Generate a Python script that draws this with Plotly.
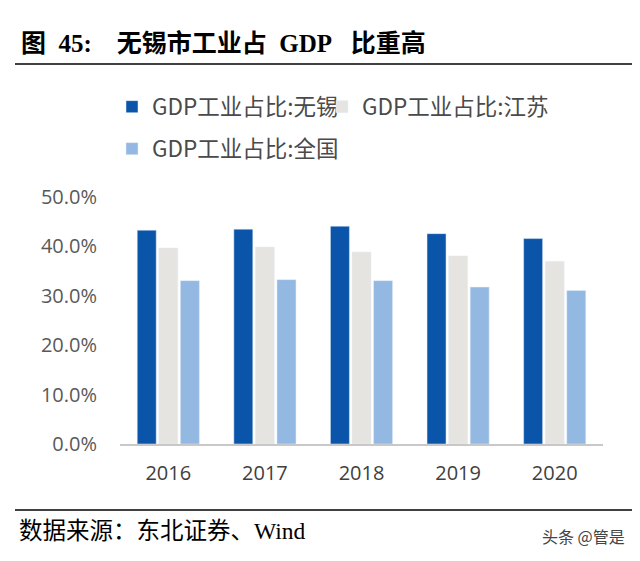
import plotly.graph_objects as go

years = ["2016", "2017", "2018", "2019", "2020"]
wuxi = [43.2, 43.4, 44.0, 42.5, 41.5]
jiangsu = [39.6, 39.8, 38.8, 38.0, 36.9]
national = [33.0, 33.2, 33.0, 31.7, 31.0]
series_names = ["GDP工业占比:无锡", "GDP工业占比:江苏", "GDP工业占比:全国"]
y_ticks = [0, 10, 20, 30, 40, 50]
y_ticklabels = ["0.0%", "10.0%", "20.0%", "30.0%", "40.0%", "50.0%"]

# page is offset by the browser's default 8px body margin
OFF = 8
PAGE_W, PAGE_H = 640, 561
W, H = PAGE_W - OFF, PAGE_H - OFF
L, R, T, B = 120, 603, 195, 444.5  # plot area in page pixels

def px(x):
    return (x - L) / (R - L)

def py(y):
    return (B - y) / (B - T)

def cx(x):
    return (x - OFF) / W

def cy(y):
    return 1 - (y - OFF) / H

colors = ["#0A55AA", "#E6E4E0", "#93B8E2"]
lg_font = dict(family="Noto Sans CJK SC", size=22.5, color="#4a4a4a")

fig = go.Figure()
fig.add_trace(go.Bar(x=years, y=wuxi, name=series_names[0], marker_color=colors[0], legend="legend"))
fig.add_trace(go.Bar(x=years, y=jiangsu, name=series_names[1], marker_color=colors[1], legend="legend2"))
fig.add_trace(go.Bar(x=years, y=national, name=series_names[2], marker_color=colors[2], legend="legend3"))

def leg(x, y):
    return dict(orientation="h", xref="container", yref="container",
                x=cx(x), y=cy(y), xanchor="left", yanchor="middle",
                font=lg_font, bgcolor="rgba(0,0,0,0)")

fig.update_layout(
    width=W, height=H,
    margin=dict(l=L - OFF, r=W - (R - OFF), t=T - OFF, b=H - (B - OFF), pad=0),
    paper_bgcolor="white", plot_bgcolor="white",
    barmode="group", bargap=0.33, bargroupgap=0.12,
    showlegend=True,
    legend=leg(112, 107),
    legend2=leg(322, 107),
    legend3=leg(112, 149),
    xaxis=dict(type="category", showline=True, linecolor="#C8C8C8", linewidth=1.5,
               showgrid=False, ticks="outside", ticklen=10, tickcolor="rgba(0,0,0,0)",
               tickfont=dict(family="Open Sans", size=20, color="#404040")),
    yaxis=dict(range=[0, 50], tickvals=y_ticks, ticktext=y_ticklabels,
               showgrid=False, zeroline=False, showline=False,
               ticks="outside", ticklen=18, tickcolor="rgba(0,0,0,0)",
               tickfont=dict(family="Open Sans", size=20, color="#595959")),
)

NB = "\u00a0"
title = "<b>图" + NB * 2 + "45:" + NB * 4 + "无锡市工业占" + NB * 2 + "GDP" + NB * 3 + "比重高</b>"
fig.add_annotation(text=title, xref="paper", yref="paper",
                   x=px(19), y=py(41), xanchor="left", yanchor="middle", showarrow=False,
                   font=dict(family="Liberation Serif, Noto Sans CJK SC", size=25, color="black"))
fig.add_annotation(text="数据来源：东北证券、Wind", xref="paper", yref="paper",
                   x=px(17), y=py(532), xanchor="left", yanchor="middle", showarrow=False,
                   font=dict(family="Liberation Serif, Noto Sans CJK SC", size=23.5, color="black"))
fig.add_annotation(text="头条 @管是", xref="paper", yref="paper",
                   x=px(627), y=py(537), xanchor="right", yanchor="middle", showarrow=False,
                   font=dict(family="Noto Sans CJK SC", size=16, color="#444444"))

fig.add_shape(type="line", xref="paper", yref="paper", x0=px(15), x1=px(636),
              y0=py(61.5), y1=py(61.5), line=dict(color="black", width=1.5))
fig.add_shape(type="line", xref="paper", yref="paper", x0=px(15), x1=px(636),
              y0=py(511), y1=py(511), line=dict(color="black", width=1.5))

fig.write_html("out.html")
